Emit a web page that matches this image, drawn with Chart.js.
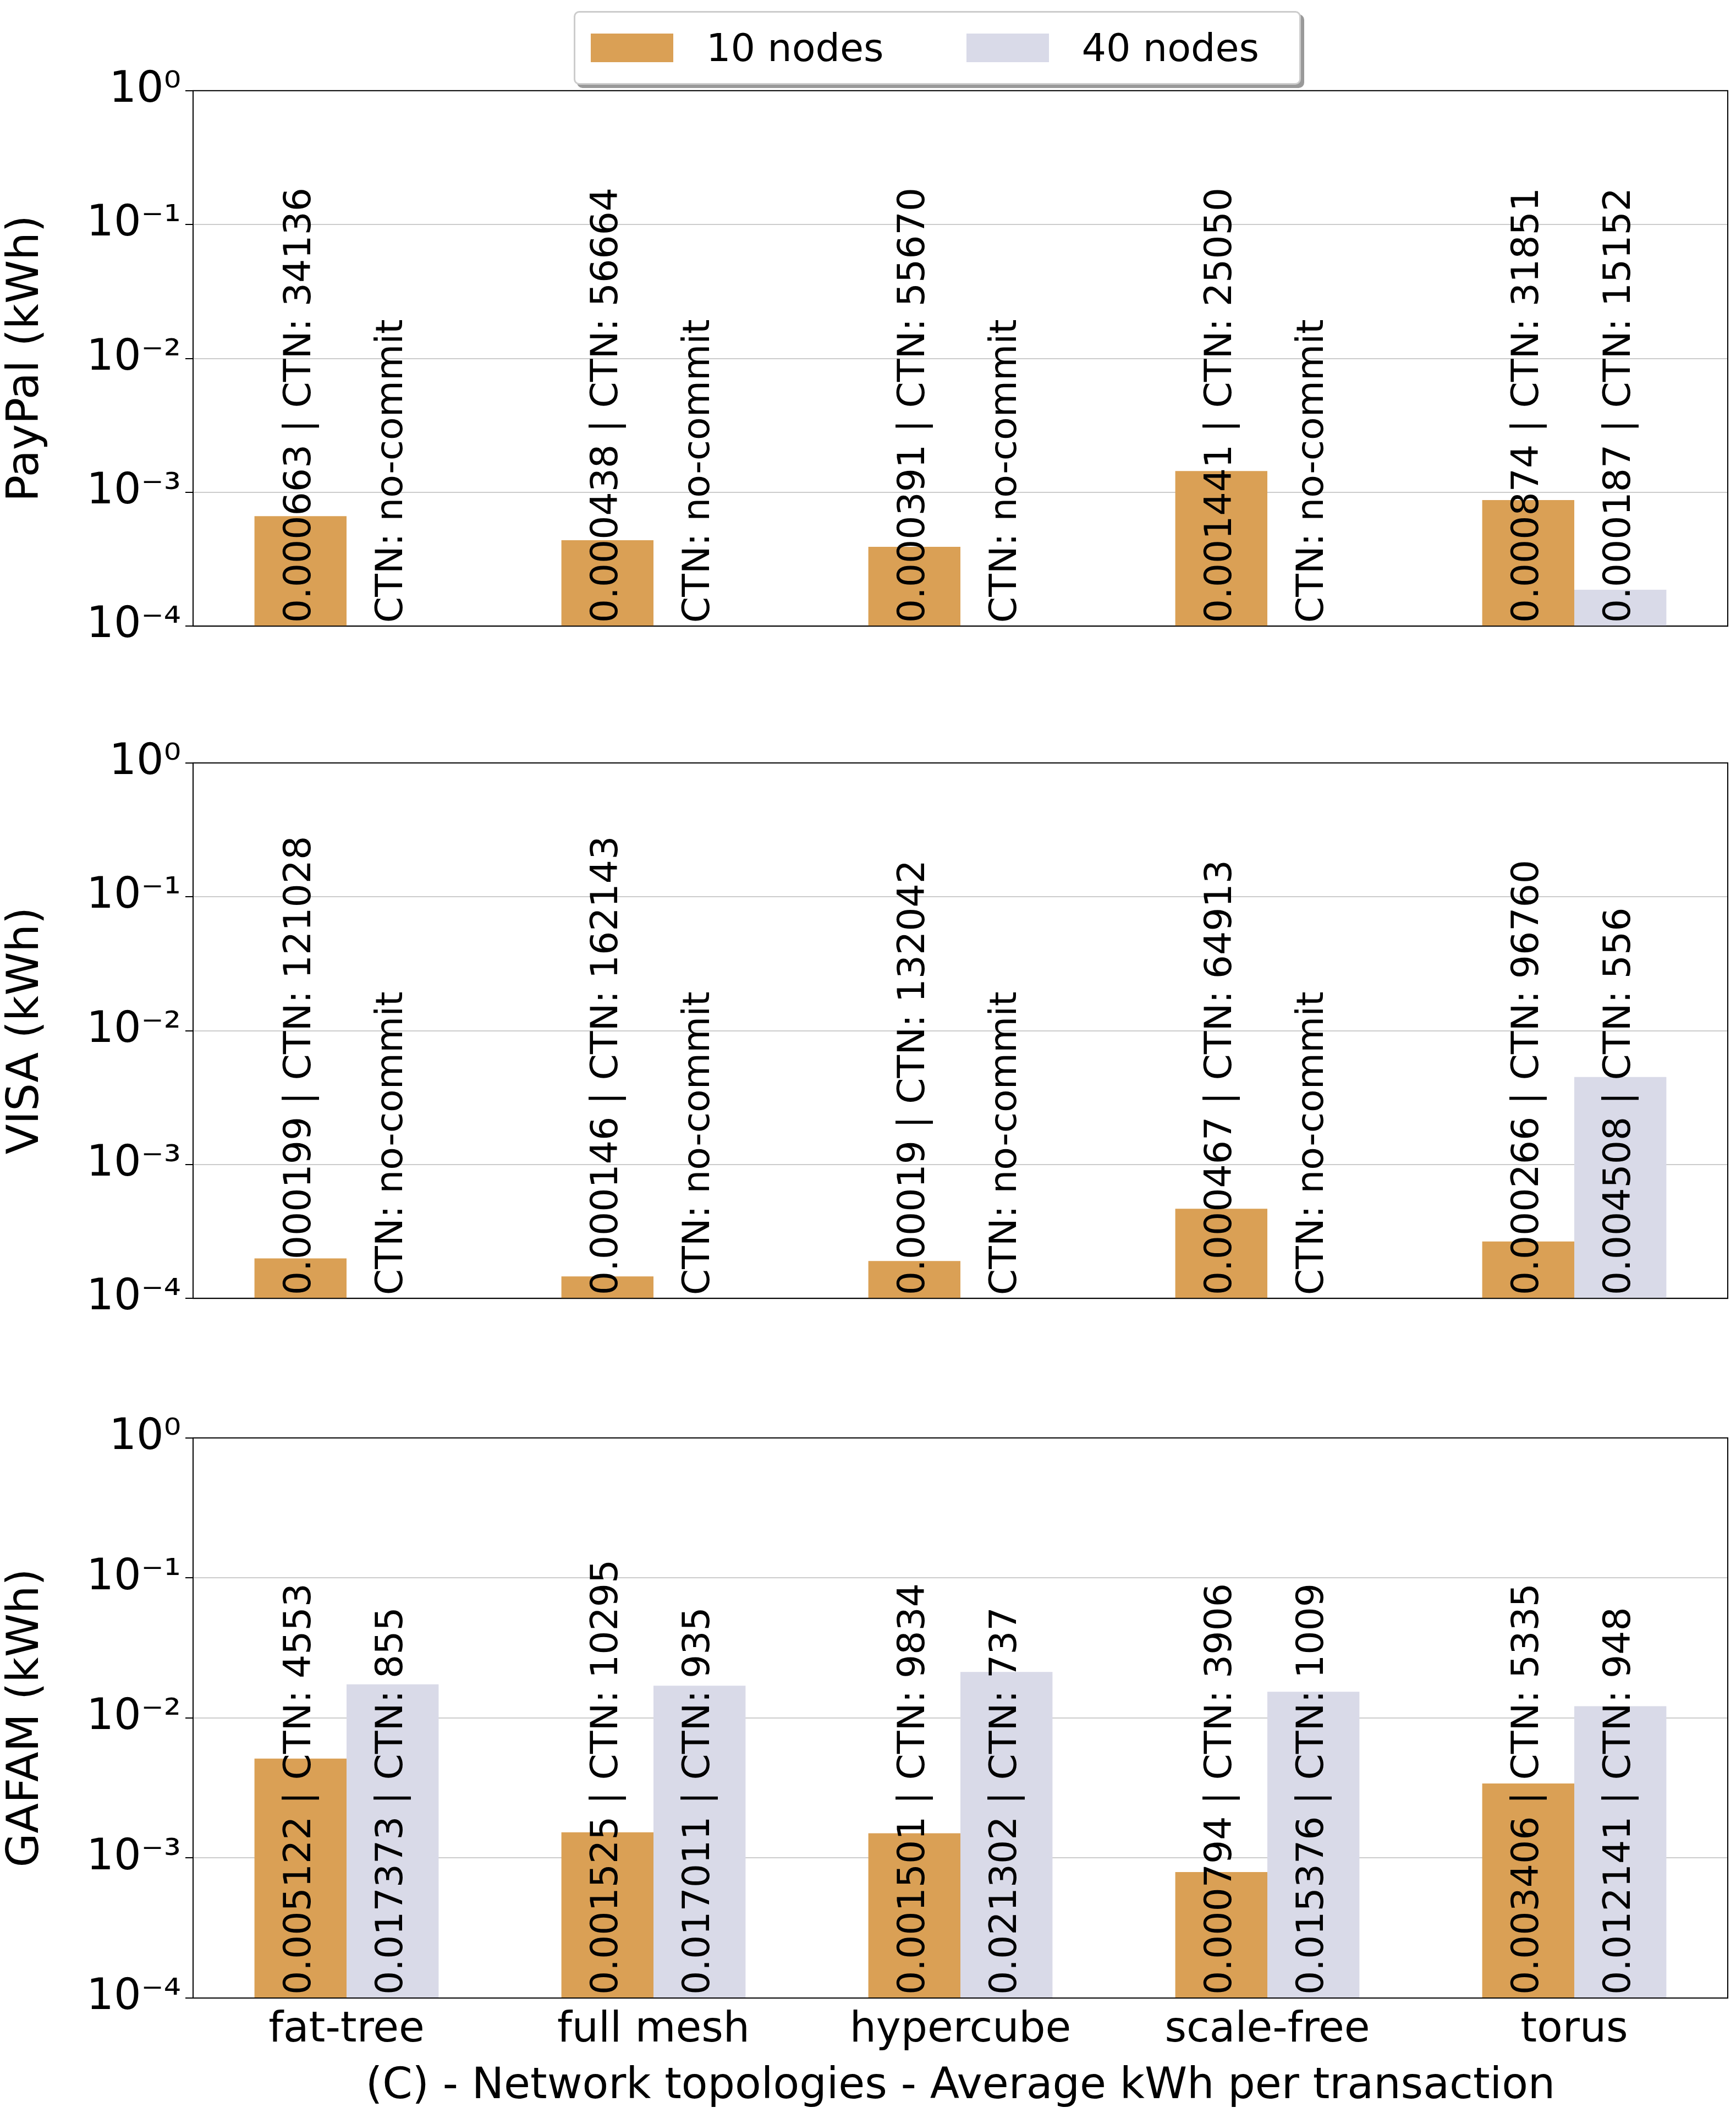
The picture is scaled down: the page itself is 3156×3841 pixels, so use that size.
<!DOCTYPE html>
<html><head><meta charset="utf-8">
<script src="https://cdn.jsdelivr.net/npm/chart.js@4/dist/chart.umd.min.js"></script>
<style>
body{margin:0;background:#fff;width:3156px;height:3841px;position:relative;overflow:hidden;font-family:"DejaVu Sans",sans-serif}
.panel{position:absolute;left:0;width:3156px}
#legend{position:absolute;left:1043px;top:20px;width:1316px;height:128px;border:3px solid #ccc;border-radius:10px;box-shadow:6px 6px 0 #999;background:#fff;display:flex;align-items:center;font-size:70px}
.sw{display:inline-block;width:150px;height:52px;margin:0 60px 0 28px}
</style></head><body>
<div id="legend"><span class="sw" style="background:#DAA055"></span>10 nodes<span class="sw" style="background:#D9DAE8;margin-left:150px"></span>40 nodes</div>
<div class="panel" style="top:110px;height:1083px"><canvas id="c1"></canvas></div>
<div class="panel" style="top:1332px;height:1083px"><canvas id="c2"></canvas></div>
<div class="panel" style="top:2559px;height:1282px"><canvas id="c3"></canvas></div>
<script>
const topologies = ["fat-tree", "full mesh", "hypercube", "scale-free", "torus"];

const paypal10 = [0.000663, 0.000438, 0.000391, 0.001441, 0.000874];
const paypal40 = [null, null, null, null, 0.000187];
const paypalCtn10 = [34136, 56664, 55670, 25050, 31851];
const paypalCtn40 = ["no-commit", "no-commit", "no-commit", "no-commit", 15152];

const visa10 = [0.000199, 0.000146, 0.00019, 0.000467, 0.000266];
const visa40 = [null, null, null, null, 0.004508];
const visaCtn10 = [121028, 162143, 132042, 64913, 96760];
const visaCtn40 = ["no-commit", "no-commit", "no-commit", "no-commit", 556];

const gafam10 = [0.005122, 0.001525, 0.001501, 0.000794, 0.003406];
const gafam40 = [0.017373, 0.017011, 0.021302, 0.015376, 0.012141];
const gafamCtn10 = [4553, 10295, 9834, 3906, 5335];
const gafamCtn40 = [855, 935, 737, 1009, 948];

const sup = {"0":"⁰","1":"¹","2":"²","3":"³","4":"⁴","-":"⁻"};

const barText = {
  id: 'barText',
  afterDatasetsDraw(chart) {
    const ctx = chart.ctx, cfg = chart.options.plugins.barText;
    ctx.save();
    ctx.font = '68px "DejaVu Sans"';
    ctx.fillStyle = '#000';
    ctx.textAlign = 'left';
    ctx.textBaseline = 'middle';
    chart.data.datasets.forEach((ds, di) => {
      const meta = chart.getDatasetMeta(di);
      meta.data.forEach((el, i) => {
        const v = ds.data[i];
        const txt = (v == null ? '' : v + ' | ') + 'CTN: ' + cfg.ctn[di][i];
        ctx.save();
        ctx.translate(el.x, chart.chartArea.bottom - 6);
        ctx.rotate(-Math.PI / 2);
        ctx.fillText(txt, 0, 0);
        ctx.restore();
      });
    });
    ctx.restore();
  }
};

function makeChart(id, title, d10, d40, c10, c40, showX) {
  new Chart(document.getElementById(id), {
    type: 'bar',
    data: {
      labels: topologies,
      datasets: [
        {label: '10 nodes', data: d10, backgroundColor: '#DAA055'},
        {label: '40 nodes', data: d40, backgroundColor: '#D9DAE8'}
      ]
    },
    plugins: [barText],
    options: {
      responsive: true,
      maintainAspectRatio: false,
      animation: false,
      layout: {padding: {top: 50, right: 15, bottom: showX ? 0 : 10}},
      categoryPercentage: 0.6,
      barPercentage: 1.0,
      plugins: {legend: {display: false}, tooltip: {enabled: false}, barText: {ctn: [c10, c40]}},
      scales: {
        x: {
          grid: {display: false, drawTicks: showX},
          border: {color: '#000', width: 2},
          ticks: {display: showX, color: '#000', font: {size: 76, family: 'DejaVu Sans'}, padding: 6},
          title: {display: showX, text: '(C) - Network topologies - Average kWh per transaction', color: '#000', font: {size: 78, family: 'DejaVu Sans'}, padding: 0},
          afterFit: s => { s.height = showX ? 209 : 0; }
        },
        y: {
          type: 'logarithmic',
          min: 1e-4, max: 1,
          afterBuildTicks: s => { s.ticks = [1e-4, 1e-3, 1e-2, 1e-1, 1].map(v => ({value: v})); },
          afterFit: s => { s.width = 351; },
          grid: {color: '#ccc', borderDash: [8, 6], lineWidth: 2, tickColor: '#000', tickLength: 14},
          border: {color: '#000', width: 2},
          ticks: {
            color: '#000', font: {size: 78, family: 'DejaVu Sans'}, padding: 8,
            callback: v => '10' + String(Math.round(Math.log10(v))).split('').map(c => sup[c]).join('')
          },
          title: {display: true, text: title, color: '#000', font: {size: 80, family: 'DejaVu Sans'}, padding: 0}
        }
      }
    },
  });
}

// right border of the box
const boxRight = {
  id: 'boxRight'
};
Chart.register({
  id: 'frame',
  afterDraw(chart) {
    const {ctx, chartArea: a} = chart;
    ctx.save();
    ctx.strokeStyle = '#000';
    ctx.lineWidth = 2;
    ctx.strokeRect(a.left, a.top, a.right - a.left, a.bottom - a.top);
    ctx.restore();
  }
});

makeChart('c1', 'PayPal (kWh)', paypal10, paypal40, paypalCtn10, paypalCtn40, false);
makeChart('c2', 'VISA (kWh)', visa10, visa40, visaCtn10, visaCtn40, false);
makeChart('c3', 'GAFAM (kWh)', gafam10, gafam40, gafamCtn10, gafamCtn40, true);
</script>
</body></html>
